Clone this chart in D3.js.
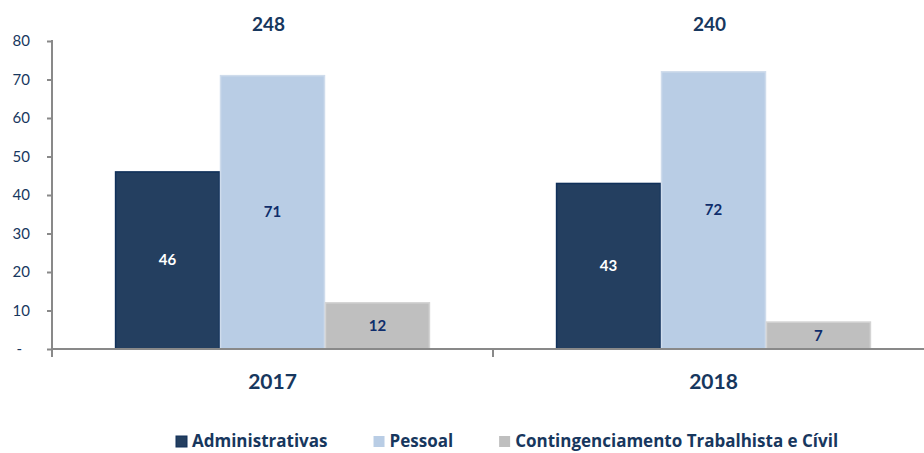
<!DOCTYPE html>
<html>
<head>
<meta charset="utf-8">
<script src="https://cdn.jsdelivr.net/npm/d3@7"></script>
<style>
  body { margin: 0; background: #fff; }
  svg { display: block; font-family: Lato, "Open Sans", sans-serif; }
</style>
</head>
<body>
<svg id="chart" width="924" height="453"></svg>
<script>
// chart data
const years = ["2017", "2018"];
const seriesNames = ["Administrativas", "Pessoal", "Contingenciamento Trabalhista e Cívil"];
const administrativas = [46, 43];
const pessoal = [71, 72];
const contingenciamento = [12, 7];
const totals = [248, 240];
const yTicks = [0, 10, 20, 30, 40, 50, 60, 70, 80];

const colors = ["#243f60", "#b9cde5", "#bfbfbf"];
const strokes = ["#10305a", "#cfdcec", "#d4d4d4"];
const labelColors = ["#ffffff", "#0f2d6b", "#0f2d6b"];
const navy = "#17375e";

const svg = d3.select("#chart");
const margin = { left: 52, top: 41, bottom: 349 };

const x = d3.scaleBand().domain(years).range([margin.left, 934]);
// bars take ~72% of each band
const inner = d3.scaleBand().domain(seriesNames)
  .range([x.bandwidth() * 0.143, x.bandwidth() * 0.857]);
const y = d3.scaleLinear().domain([0, 80]).range([margin.bottom, margin.top]);

const seriesValues = [administrativas, pessoal, contingenciamento];

// bars
seriesNames.forEach((name, si) => {
  const g = svg.append("g");
  g.selectAll("rect")
    .data(seriesValues[si])
    .join("rect")
    .attr("x", (d, i) => x(years[i]) + inner(name) + 0.5)
    .attr("y", d => y(d))
    .attr("width", inner.bandwidth() - 1)
    .attr("height", d => y(0) - y(d))
    .attr("fill", colors[si])
    .attr("stroke", strokes[si])
    .attr("stroke-width", 1.5);

  g.selectAll("text")
    .data(seriesValues[si])
    .join("text")
    .attr("x", (d, i) => x(years[i]) + inner(name) + inner.bandwidth() / 2)
    .attr("y", d => (y(d) + y(0)) / 2 + 5)
    .attr("text-anchor", "middle")
    .attr("font-size", 15)
    .attr("font-weight", 700)
    .attr("fill", labelColors[si])
    .text(d => d);
});

// y axis
const yAxis = svg.append("g")
  .attr("transform", `translate(${margin.left},0)`)
  .call(d3.axisLeft(y).tickValues(yTicks).tickSize(5).tickFormat(d => d === 0 ? "-" : d));
yAxis.select(".domain").attr("d", `M0,${margin.top - 1}V357`);
yAxis.selectAll("line, path").attr("stroke", "#898989").attr("stroke-width", 2);
yAxis.selectAll("text")
  .attr("x", -22)
  .attr("font-size", 15)
  .attr("fill", navy)
  .attr("font-family", "Lato, sans-serif");
yAxis.selectAll(".tick").filter(d => d === 0).select("text").attr("x", -30);

// x axis
const xAxis = svg.append("g").attr("transform", `translate(0,${margin.bottom})`);
xAxis.append("line")
  .attr("x1", margin.left).attr("x2", 924)
  .attr("stroke", "#898989").attr("stroke-width", 2);
xAxis.selectAll(".sep")
  .data(years.slice(1))
  .join("line")
  .attr("x1", d => x(d)).attr("x2", d => x(d))
  .attr("y1", 0).attr("y2", 8)
  .attr("stroke", "#898989").attr("stroke-width", 2);
xAxis.selectAll(".yr")
  .data(years)
  .join("text")
  .attr("x", d => x(d) + x.bandwidth() / 2)
  .attr("y", 40)
  .attr("text-anchor", "middle")
  .attr("font-size", 21)
  .attr("font-weight", 700)
  .attr("fill", navy)
  .text(d => d);

// totals above each group
svg.selectAll(".total")
  .data(totals)
  .join("text")
  .attr("x", (d, i) => x(years[i]) + x.bandwidth() / 2 - 4)
  .attr("y", 31)
  .attr("text-anchor", "middle")
  .attr("font-size", 19)
  .attr("font-weight", 700)
  .attr("fill", navy)
  .text(d => d);

// legend
const legend = svg.append("g").attr("transform", "translate(176,447)");
let lx = 0;
seriesNames.forEach((name, i) => {
  legend.append("rect")
    .attr("x", lx).attr("y", -11)
    .attr("width", 11).attr("height", 11)
    .attr("fill", colors[i])
    .attr("stroke", i === 0 ? strokes[0] : "none");
  const t = legend.append("text")
    .attr("x", lx + 16)
    .attr("y", 0)
    .attr("font-family", "'Open Sans', sans-serif")
    .attr("font-size", 17)
    .attr("font-weight", 700)
    .attr("fill", navy)
    .text(name);
  lx += 16 + t.node().getComputedTextLength() + 46;
});
</script>
</body>
</html>
